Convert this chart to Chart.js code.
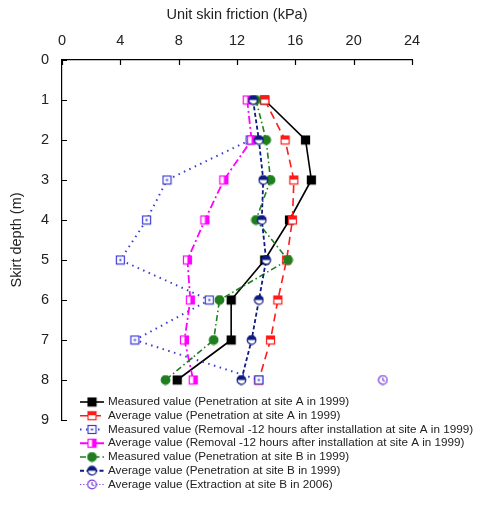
<!DOCTYPE html>
<html>
<head>
<meta charset="utf-8">
<script src="https://cdn.jsdelivr.net/npm/chart.js@4"></script>
<style>
  html, body { margin: 0; padding: 0; background: #fff; }
  #wrap { width: 480px; height: 506px; }
</style>
</head>
<body>
<div id="wrap"><canvas id="chart" width="480" height="506"></canvas></div>
<script>
// ── data ──
const depths = [1, 2, 3, 4, 5, 6, 7, 8];
const measuredA = [13.9, 16.7, 17.1, 15.6, 13.9, 11.6, 11.6, 7.9];
const averageA = [13.9, 15.3, 15.9, 15.8, 15.4, 14.8, 14.3, 13.5];
const removalDepths = [2, 3, 4, 5, 6, 7, 8];
const measuredRemovalA = [12.9, 7.2, 5.8, 4.0, 10.1, 5.0, 13.5];
const averageRemovalA = [12.7, 13.0, 11.1, 9.8, 8.6, 8.8, 8.4, 9.0];
const measuredB = [13.3, 14.0, 14.3, 13.3, 15.5, 10.8, 10.4, 7.1];
const averageB = [13.1, 13.5, 13.8, 13.7, 14.0, 13.5, 13.0, 12.3];
const extractionDepths = [8];
const extractionB = [22.0];

const xTicks = [0, 4, 8, 12, 16, 20, 24];
const yTicks = [0, 1, 2, 3, 4, 5, 6, 7, 8, 9];

const FONT = '"Liberation Sans", Arial, sans-serif';

// friction on x, depth on y
const toPoints = (vals, ds) => vals.map((v, i) => ({ x: v, y: ds[i] }));

// ── marker images ──
function marker(shape, color, fill) {
    const c = document.createElement('canvas');
    c.width = 11; c.height = 11;
    const g = c.getContext('2d');
    g.lineWidth = 1.2;
    g.strokeStyle = color;
    g.fillStyle = color;
    if (shape === 'square') {
        g.fillStyle = '#fff';
        g.fillRect(1.5, 1.5, 8, 8);
        g.fillStyle = color;
        if (fill === 'full') g.fillRect(1.5, 1.5, 8, 8);
        if (fill === 'top') g.fillRect(1.5, 1.5, 8, 3.5);
        if (fill === 'right') g.fillRect(5.5, 1.5, 4, 8);
        if (fill === 'dot') g.fillRect(4.5, 4.5, 2, 2);
        g.strokeRect(1.5, 1.5, 8, 8);
    } else {
        g.beginPath();
        g.arc(5.5, 5.5, 4.3, 0, Math.PI * 2);
        g.fillStyle = '#fff';
        g.fill();
        g.fillStyle = color;
        if (fill === 'full') { g.fill(); }
        if (fill === 'top') {
            g.beginPath();
            g.arc(5.5, 5.5, 4.3, Math.PI, Math.PI * 2);
            g.closePath();
            g.fill();
        }
        if (fill === 'cross') {
            g.beginPath();
            g.moveTo(5.5, 3); g.lineTo(5.5, 5.5); g.lineTo(7.5, 7);
            g.stroke();
        }
        g.beginPath();
        g.arc(5.5, 5.5, 4.3, 0, Math.PI * 2);
        g.stroke();
    }
    return c;
}

const series = [
    { label: 'Measured value (Penetration at site A in 1999)', data: toPoints(measuredA, depths),
      color: '#000000', dash: [], width: 1.6, pt: marker('square', '#000000', 'full') },
    { label: 'Average value (Penetration at site A in 1999)', data: toPoints(averageA, depths),
      color: '#ff1a1a', dash: [8, 5], width: 1.6, pt: marker('square', '#ff1a1a', 'top') },
    { label: 'Measured value (Removal -12 hours after installation at site A in 1999)', data: toPoints(measuredRemovalA, removalDepths),
      color: '#3a3ad6', dash: [1.5, 4.5], width: 2, pt: marker('square', '#3a3ad6', 'dot') },
    { label: 'Average value (Removal -12 hours after installation at site A in 1999)', data: toPoints(averageRemovalA, depths),
      color: '#ff00ff', dash: [8, 3, 2, 3], width: 1.8, pt: marker('square', '#ff00ff', 'right') },
    { label: 'Measured value (Penetration at site B in 1999)', data: toPoints(measuredB, depths),
      color: '#1f7f1f', dash: [6, 3, 1.5, 3], width: 1.6, pt: marker('circle', '#1f7f1f', 'full') },
    { label: 'Average value (Penetration at site B in 1999)', data: toPoints(averageB, depths),
      color: '#0d1a80', dash: [4, 2.5], width: 1.8, pt: marker('circle', '#0d1a80', 'top') },
    { label: 'Average value (Extraction at site B in 2006)', data: toPoints(extractionB, extractionDepths),
      color: '#7a3de0', dash: [1.2, 2], width: 1.2, pt: marker('circle', '#7a3de0', 'cross') }
];

// ── inward ticks + legend drawn in canvas ──
const decorPlugin = {
    id: 'decor',
    afterDraw(chart) {
        const ctx = chart.ctx;
        const xs = chart.scales.x, ys = chart.scales.y;
        const area = chart.chartArea;
        ctx.save();
        ctx.strokeStyle = '#000';
        ctx.lineWidth = 1.2;
        ctx.beginPath();
        xTicks.forEach(v => {
            const px = Math.round(xs.getPixelForValue(v)) + 0.5;
            ctx.moveTo(px, area.top); ctx.lineTo(px, area.top + 5);
        });
        yTicks.forEach(v => {
            const py = Math.round(ys.getPixelForValue(v)) + 0.5;
            ctx.moveTo(area.left, py); ctx.lineTo(area.left + 5, py);
        });
        ctx.stroke();

        // legend
        ctx.font = '11.7px ' + FONT;
        ctx.textBaseline = 'middle';
        series.forEach((s, i) => {
            const y = 402 + i * 13.75;
            ctx.strokeStyle = s.color;
            ctx.lineWidth = s.width;
            ctx.setLineDash(s.dash);
            ctx.beginPath();
            ctx.moveTo(80, y); ctx.lineTo(104, y);
            ctx.stroke();
            ctx.setLineDash([]);
            ctx.drawImage(s.pt, 92 - 5.5, y - 5.5);
            ctx.fillStyle = '#222';
            ctx.fillText(s.label, 108, y);
        });
        ctx.restore();
    }
};

new Chart(document.getElementById('chart'), {
    type: 'line',
    data: {
        datasets: series.map((s, i) => ({
            label: s.label,
            data: s.data,
            borderColor: s.color,
            backgroundColor: s.color,
            borderWidth: s.width,
            borderDash: s.dash,
            pointStyle: s.pt,
            pointRadius: 5,
            fill: false,
            tension: 0,
            order: series.length - i
        }))
    },
    options: {
        responsive: false,
        animation: false,
        layout: { padding: { left: 0, top: 0, right: 68, bottom: 86 } },
        plugins: {
            legend: { display: false },
            tooltip: { enabled: false }
        },
        scales: {
            x: {
                type: 'linear',
                position: 'top',
                min: 0, max: 24,
                afterFit: s => { s.height = 60; },
                afterBuildTicks: s => { s.ticks = xTicks.map(v => ({ value: v })); },
                grid: { display: false, drawTicks: false },
                border: { display: true, color: '#000', width: 1.2 },
                ticks: { color: '#222', font: { size: 14.5, family: FONT }, padding: 10 },
                title: { display: true, text: 'Unit skin friction (kPa)', color: '#222',
                         font: { size: 14.5, family: FONT }, padding: { top: 6, bottom: 0 } }
            },
            y: {
                type: 'linear',
                reverse: true,
                min: 0, max: 9,
                afterFit: s => { s.width = 62; },
                afterBuildTicks: s => { s.ticks = yTicks.map(v => ({ value: v })); },
                grid: { display: false, drawTicks: false },
                border: { display: true, color: '#000', width: 1.2 },
                ticks: { color: '#222', font: { size: 14.5, family: FONT }, padding: 13 },
                title: { display: true, text: 'Skirt depth (m)', color: '#222',
                         font: { size: 14.5, family: FONT }, padding: { top: 8, bottom: 0 } }
            }
        }
    },
    plugins: [decorPlugin]
});
</script>
</body>
</html>
